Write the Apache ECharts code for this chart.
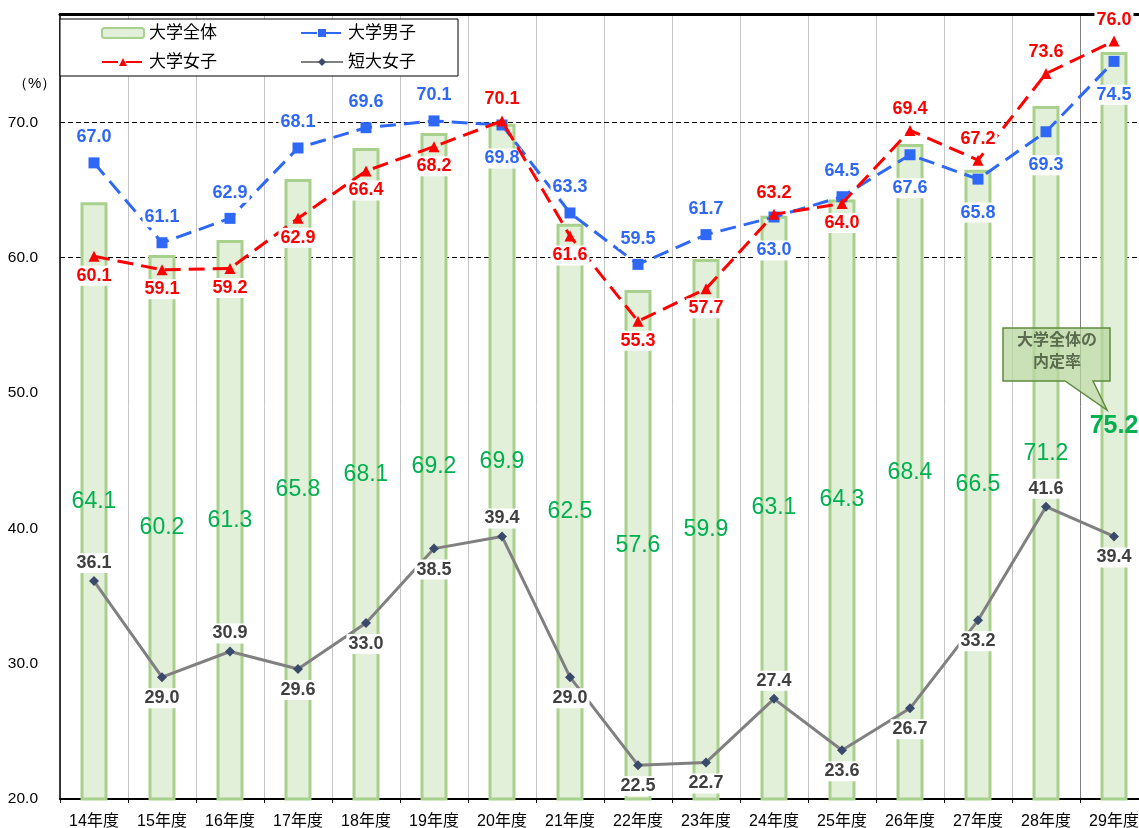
<!DOCTYPE html>
<html>
<head>
<meta charset="utf-8">
<script src="https://cdn.jsdelivr.net/npm/echarts@6/dist/echarts.min.js"></script>
<style>
html,body{margin:0;padding:0;background:#fff;}
#chart{width:1139px;height:828px;}
</style>
</head>
<body>
<div id="chart"></div>
<script>
// ---- data ----
const categories = ['14年度','15年度','16年度','17年度','18年度','19年度','20年度','21年度','22年度','23年度','24年度','25年度','26年度','27年度','28年度','29年度'];
const allUniv      = [64.1, 60.2, 61.3, 65.8, 68.1, 69.2, 69.9, 62.5, 57.6, 59.9, 63.1, 64.3, 68.4, 66.5, 71.2, 75.2];
const maleUniv     = [67.0, 61.1, 62.9, 68.1, 69.6, 70.1, 69.8, 63.3, 59.5, 61.7, 63.0, 64.5, 67.6, 65.8, 69.3, 74.5];
const femaleUniv   = [60.1, 59.1, 59.2, 62.9, 66.4, 68.2, 70.1, 61.6, 55.3, 57.7, 63.2, 64.0, 69.4, 67.2, 73.6, 76.0];
const juniorFemale = [36.1, 29.0, 30.9, 29.6, 33.0, 38.5, 39.4, 29.0, 22.5, 22.7, 27.4, 23.6, 26.7, 33.2, 41.6, 39.4];
const guideValues  = [60, 70];

const FONT = "'Liberation Sans', 'Noto Sans CJK JP', sans-serif";
const fmt = p => Number(p.value).toFixed(1);

// label placement rules
const blueItems = maleUniv.map((v, i) => {
  const above = v >= femaleUniv[i];
  return { value: v, label: { position: above ? 'top' : 'bottom', distance: above ? 10 : 18 } };
});
const redItems = femaleUniv.map((v, i) => {
  const above = v > maleUniv[i];
  return { value: v, label: { position: above ? 'top' : 'bottom', distance: above ? 6 : 4 } };
});
const grayItems = juniorFemale.map((v, i) => {
  const prev = i > 0 ? juniorFemale[i - 1] : -Infinity;
  const next = i < juniorFemale.length - 1 ? juniorFemale[i + 1] : -Infinity;
  const above = v > prev && v > next;
  return { value: v, label: { position: above ? 'top' : 'bottom', distance: above ? 3 : 6 } };
});
const barItems = allUniv.map((v, i) => i === allUniv.length - 1
  ? { value: v, label: { fontWeight: 'bold', fontSize: 25 } }
  : { value: v });

const splitColors = categories.map(() => '#c4c4c4').concat(['#c4c4c4']);
splitColors[15] = '#7f7f7f';

const lineLabel = (color) => ({
  show: true, formatter: fmt, color: color, fontSize: 18, fontWeight: 'bold',
  fontFamily: FONT, backgroundColor: '#fff', padding: [1, 2]
});

const chart = echarts.init(document.getElementById('chart'), null, { renderer: 'canvas' });
chart.setOption({
  animation: false,
  backgroundColor: '#fff',
  textStyle: { fontFamily: FONT },
  grid: { left: 60, top: 14, right: -9, bottom: 29, containLabel: false, outerBoundsMode: 'none' },
  legend: [
    {
      data: ['大学全体', '大学女子'], orient: 'vertical', left: 101, top: 23,
      itemWidth: 42, itemHeight: 10, itemGap: 9, padding: 0, z: 6,
      textStyle: { fontSize: 17, lineHeight: 20, color: '#000', fontFamily: FONT }
    },
    {
      data: ['大学男子', '短大女子'], orient: 'vertical', left: 300, top: 23,
      itemWidth: 42, itemHeight: 10, itemGap: 9, padding: 0, z: 6,
      textStyle: { fontSize: 17, lineHeight: 20, color: '#000', fontFamily: FONT }
    }
  ],
  xAxis: [
    {
      type: 'category', data: categories, boundaryGap: true,
      axisLine: { show: true, lineStyle: { color: '#000', width: 2 } },
      axisTick: { show: true, length: 4, lineStyle: { color: '#000' } },
      axisLabel: { color: '#000', fontSize: 16, margin: 15, fontFamily: FONT },
      splitLine: { show: true, lineStyle: { color: splitColors, width: 1 } }
    },
    {
      type: 'category', data: categories, position: 'top',
      axisLine: { show: true, lineStyle: { color: '#000', width: 3 } },
      axisTick: { show: false }, axisLabel: { show: false }, splitLine: { show: false }
    }
  ],
  yAxis: {
    type: 'value', min: 20, max: 78, interval: 10,
    axisLine: { show: true, lineStyle: { color: '#000', width: 1.5 } },
    axisTick: { show: false },
    splitLine: { show: false },
    axisLabel: {
      color: '#000', fontSize: 15.5, margin: 22, fontFamily: FONT,
      formatter: v => (v % 10 === 0 ? v.toFixed(1) : '')
    }
  },
  graphic: [
    { type: 'rect', z: 3, shape: { x: 60, y: 19, width: 398, height: 57 },
      style: { fill: '#fff', stroke: '#000', lineWidth: 1 } },
    { type: 'text', z: 3, left: 13, top: 76,
      style: { text: '（%）', fontSize: 15, fill: '#000', font: '15px ' + FONT } },
    { type: 'polygon', z: 8,
      shape: { points: [[1003, 328], [1110, 328], [1110, 381], [1093, 381], [1107, 410], [1065, 381], [1003, 381]] },
      style: { fill: 'rgba(184,215,160,0.75)', stroke: '#5f8a3f', lineWidth: 1.5 } },
    { type: 'text', z: 9, x: 1057, y: 341,
      style: { text: '大学全体の', font: 'bold 16px ' + FONT, fill: '#5b6b4e', align: 'center', verticalAlign: 'middle' } },
    { type: 'text', z: 9, x: 1057, y: 363,
      style: { text: '内定率', font: 'bold 16px ' + FONT, fill: '#5b6b4e', align: 'center', verticalAlign: 'middle' } }
  ],
  series: [
    {
      name: 'guides', type: 'line', data: [], z: 1, silent: true,
      markLine: {
        z: 1, silent: true, symbol: 'none', label: { show: false },
        lineStyle: { color: '#000', type: [5, 3], width: 1 },
        data: guideValues.map(v => ({ yAxis: v }))
      }
    },
    {
      name: '大学全体', type: 'bar', data: barItems, barWidth: 27, z: 2,
      itemStyle: { color: '#e2efd9', borderColor: '#a9d18e', borderWidth: 3 },
      label: { show: true, position: 'inside', formatter: fmt, color: '#00b050', fontSize: 23, fontFamily: FONT }
    },
    {
      name: '大学男子', type: 'line', data: blueItems, z: 4,
      symbol: 'rect', symbolSize: 11,
      itemStyle: { color: '#2f68f5' },
      lineStyle: { color: '#2f68f5', width: 3, type: [16, 8] },
      label: lineLabel('#2f68f5')
    },
    {
      name: '大学女子', type: 'line', data: redItems, z: 5,
      symbol: 'triangle', symbolSize: 11,
      itemStyle: { color: '#ff0000' },
      lineStyle: { color: '#ff0000', width: 3, type: [16, 8] },
      label: lineLabel('#ff0000')
    },
    {
      name: '短大女子', type: 'line', data: grayItems, z: 4,
      symbol: 'diamond', symbolSize: 10,
      itemStyle: { color: '#3a4a6b' },
      lineStyle: { color: '#808080', width: 3 },
      label: lineLabel('#404040')
    }
  ]
});
</script>
</body>
</html>
